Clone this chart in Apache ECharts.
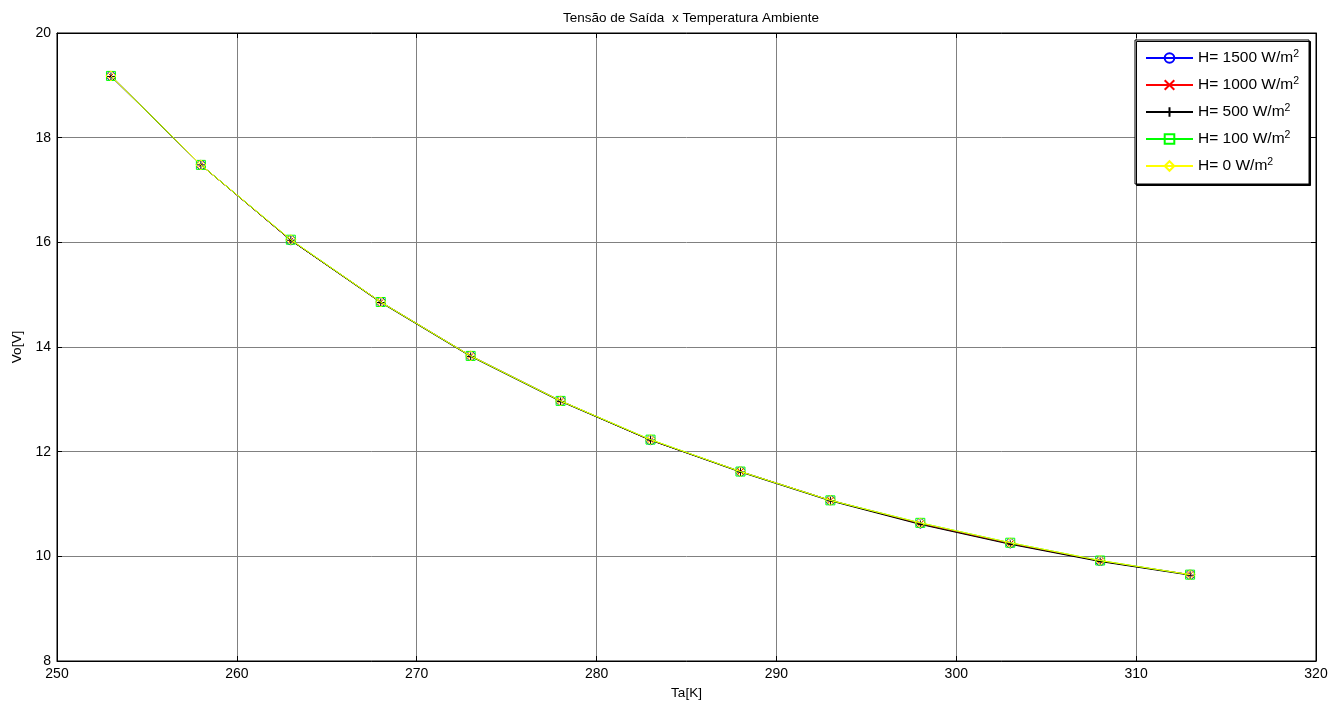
<!DOCTYPE html>
<html><head><meta charset="utf-8">
<script src="https://cdn.jsdelivr.net/npm/echarts@6/dist/echarts.min.js"></script>
<style>html,body{margin:0;padding:0;background:#fff}#c{width:1343px;height:705px}</style>
</head><body><div id="c"></div>
<script>
const temps = [253, 258, 263, 268, 273, 278, 283, 288, 293, 298, 303, 308, 313];
const vo1500 = [19.18, 17.48, 16.04, 14.86, 13.83, 12.97, 12.22, 11.62, 11.07, 10.63, 10.25, 9.91, 9.65];
const vo1000 = [19.18, 17.48, 16.04, 14.86, 13.83, 12.97, 12.22, 11.62, 11.07, 10.62, 10.24, 9.91, 9.65];
const vo500  = [19.17, 17.48, 16.04, 14.85, 13.82, 12.96, 12.22, 11.61, 11.06, 10.61, 10.23, 9.90, 9.64];
const vo100  = [19.18, 17.48, 16.05, 14.86, 13.83, 12.97, 12.23, 11.62, 11.07, 10.64, 10.26, 9.92, 9.65];
const vo0    = [19.18, 17.48, 16.05, 14.86, 13.83, 12.97, 12.23, 11.62, 11.07, 10.64, 10.26, 9.92, 9.65];
const seriesNames = ['H= 1500 W/m2', 'H= 1000 W/m2', 'H= 500 W/m2', 'H= 100 W/m2', 'H= 0 W/m2'];
const seriesData = [vo1500, vo1000, vo500, vo100, vo0];
const xTickMin = 250, xTickMax = 320, xTickStep = 10;
const yTickMin = 8, yTickMax = 20, yTickStep = 2;

const colors = ['#0000ff', '#ff0000', '#000000', '#00ff00', '#ffff00'];
const symbols = ['circle', 'path://M-1,-1L1,1M-1,1L1,-1', 'path://M0,-1L0,1M-1,0L1,0', 'rect', 'diamond'];
const sizes = [9, 6, 8, 9, 10];
const FONT = 'Liberation Sans, Arial, sans-serif';

const chart = echarts.init(document.getElementById('c'));
const series = seriesNames.map((n, i) => ({
  name: n,
  type: 'line',
  data: temps.map((t, k) => [t, seriesData[i][k]]),
  symbol: symbols[i],
  symbolSize: sizes[i],
  showAllSymbol: true,
  lineStyle: { color: colors[i], width: 1 },
  itemStyle: { color: (i === 0 || i === 3 || i === 4) ? 'rgba(0,0,0,0)' : colors[i], borderColor: colors[i], borderWidth: 1 },
  emphasis: { disabled: true },
  animation: false,
  z: 2 + i
}));

const tickStyle = { show: true, inside: true, length: 5, lineStyle: { color: '#000', width: 1 } };
chart.setOption({
  backgroundColor: '#fff',
  animation: false,
  title: {
    text: 'Tensão de Saída  x Temperatura Ambiente',
    left: 686, top: 6, textAlign: 'center',
    textStyle: { fontFamily: FONT, fontSize: 13.5, fontWeight: 'normal', color: '#000' }
  },
  grid: { left: 57, right: 27, top: 33, bottom: 44, show: true, borderColor: '#000', borderWidth: 1, backgroundColor: '#fff', containLabel: false, outerBoundsMode: 'none' },
  legend: {
    orient: 'vertical',
    left: 1135, top: 40,
    width: 175,
    padding: [9, 10, 9, 10],
    itemWidth: 47, itemHeight: 12, itemGap: 9,
    backgroundColor: '#fff',
    borderColor: '#000', borderWidth: 1,
    shadowColor: '#000', shadowBlur: 0, shadowOffsetX: 1.5, shadowOffsetY: 1.5,
    formatter: n => n.replace(/2$/, '{sup|2}'),
    textStyle: {
      fontFamily: FONT, fontSize: 15.5, color: '#000', lineHeight: 18,
      rich: { sup: { fontFamily: FONT, fontSize: 10.5, verticalAlign: 'top', lineHeight: 18, padding: [0, 0, 6, 0] } }
    },
    data: seriesNames
  },
  xAxis: [{
    type: 'value', min: xTickMin, max: xTickMax, interval: xTickStep,
    name: 'Ta[K]', nameLocation: 'middle', nameGap: 25,
    nameTextStyle: { fontFamily: FONT, fontSize: 13.5, color: '#000' },
    axisLine: { show: true, lineStyle: { color: '#000', width: 1 } },
    axisTick: tickStyle,
    axisLabel: { fontFamily: FONT, fontSize: 14, color: '#000', margin: 6 },
    splitLine: { show: true, lineStyle: { color: '#808080', width: 1 } }
  }, {
    type: 'value', position: 'top', min: xTickMin, max: xTickMax, interval: xTickStep,
    axisLine: { show: true, lineStyle: { color: '#000' } }, axisTick: tickStyle,
    axisLabel: { show: false }, splitLine: { show: false }
  }],
  yAxis: [{
    type: 'value', min: yTickMin, max: yTickMax, interval: yTickStep,
    name: 'Vo[V]', nameLocation: 'middle', nameGap: 32, nameRotate: 90,
    nameTextStyle: { fontFamily: FONT, fontSize: 13.5, color: '#000' },
    axisLine: { show: true, lineStyle: { color: '#000', width: 1 } },
    axisTick: tickStyle,
    axisLabel: { fontFamily: FONT, fontSize: 14, color: '#000', margin: 6 },
    splitLine: { show: true, lineStyle: { color: '#808080', width: 1 } }
  }, {
    type: 'value', position: 'right', min: yTickMin, max: yTickMax, interval: yTickStep,
    axisLine: { show: true, lineStyle: { color: '#000' } }, axisTick: tickStyle,
    axisLabel: { show: false }, splitLine: { show: false }
  }],
  series: series
});
</script></body></html>
